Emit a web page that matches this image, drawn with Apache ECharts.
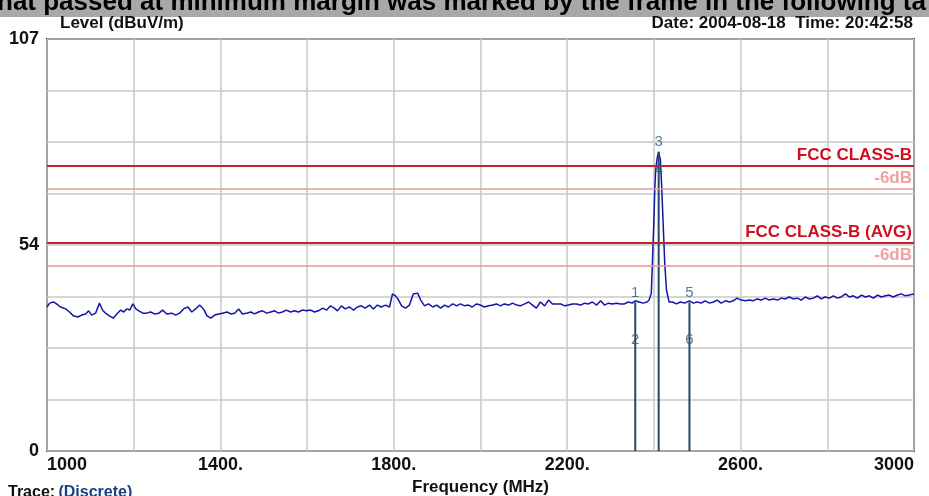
<!DOCTYPE html>
<html>
<head>
<meta charset="utf-8">
<script src="https://cdn.jsdelivr.net/npm/echarts@6/dist/echarts.min.js"></script>
<style>
  html, body { margin: 0; padding: 0; background: #fff; }
  #chart { width: 929px; height: 496px; }
</style>
</head>
<body>
<div id="chart"></div>
<script>
// measured trace (MHz, dBuV/m)
var traceFreq = [1000,1006,1015,1022,1031,1043,1052,1061,1071,1080,1089,1096,1103,1112,1121,1128,1135,1144,1153,1161,
  1170,1177,1184,1191,1198,1205,1212,1221,1230,1239,1248,1258,1267,1276,1288,1297,1306,1315,1325,1334,
  1343,1352,1361,1369,1378,1387,1396,1405,1415,1424,1433,1442,1451,1460,1470,1479,1488,1497,1507,1516,
  1525,1534,1543,1552,1562,1571,1580,1589,1599,1608,1617,1626,1636,1645,1654,1663,1670,1679,1688,1698,
  1707,1716,1725,1734,1744,1753,1762,1771,1781,1790,1797,1804,1811,1818,1827,1836,1845,1855,1862,1871,
  1880,1890,1899,1908,1917,1926,1936,1945,1954,1963,1972,1981,1991,2000,2009,2019,2028,2037,2046,2055,
  2065,2074,2083,2092,2102,2111,2120,2129,2138,2148,2157,2166,2175,2185,2194,2203,2212,2222,2231,2240,
  2249,2258,2268,2277,2286,2295,2304,2314,2323,2332,2341,2350,2357,2366,2375,2384,2389,2394,2396,2400,
  2402,2404,2408,2411,2415,2418,2421,2425,2429,2435,2443,2452,2461,2471,2482,2491,2500,2509,2518,2528,
  2537,2546,2555,2565,2574,2583,2592,2601,2611,2620,2629,2638,2648,2657,2666,2675,2685,2694,2703,2712,
  2722,2731,2740,2749,2758,2768,2777,2786,2795,2805,2814,2823,2832,2842,2851,2860,2869,2879,2888,2897,
  2906,2916,2925,2934,2943,2952,2962,2971,2980,2989,3000];
var traceLevel = [37.4,38.4,38.7,38.2,37.4,36.9,36.1,35.1,34.8,35.3,35.6,36.4,35.3,35.8,38.4,36.6,35.8,35.1,34.5,35.6,
  36.6,36.1,36.9,36.6,38.2,36.9,36.4,35.8,35.8,36.1,35.6,35.8,36.6,35.6,35.8,35.3,35.8,36.9,37.4,36.1,
  36.9,37.9,36.9,35.1,34.5,35.3,35.6,35.8,36.1,35.6,35.8,36.9,35.6,35.8,36.1,35.6,36.1,36.4,35.8,36.1,
  36.4,35.8,36.1,36.6,36.1,36.4,36.1,36.6,36.4,36.6,36.1,36.4,37.1,36.6,37.7,37.1,36.4,37.7,36.9,37.4,
  36.6,37.4,37.7,37.1,37.9,36.9,37.9,37.4,37.9,37.4,40.8,40.3,39.2,37.7,37.1,37.9,40.8,41.0,39.2,37.7,
  38.2,37.4,37.9,37.1,37.9,37.4,38.2,37.7,38.2,37.7,37.9,37.4,38.2,37.9,37.4,37.7,37.9,38.2,37.7,38.2,
  37.9,38.4,37.9,37.7,38.2,38.7,37.9,37.1,38.7,37.7,39.2,38.2,38.2,38.2,37.7,37.9,38.2,38.2,37.9,38.4,
  38.2,38.7,37.9,39.0,37.9,38.4,38.2,38.4,38.2,38.2,38.7,38.4,39.0,38.7,38.4,38.7,39.2,41.0,47.0,60.0,
  67.8,73.0,76.4,77.7,75.6,68.6,60.0,48.8,41.8,38.7,38.7,38.2,38.7,38.4,39.0,38.4,38.7,38.4,39.0,38.4,
  38.7,39.2,38.4,39.0,38.7,39.0,39.7,39.2,39.0,39.2,39.0,39.5,39.2,39.7,39.2,39.5,39.2,39.7,39.5,40.0,
  39.5,39.7,39.2,40.0,39.5,39.7,40.3,39.5,40.0,39.7,40.3,39.7,40.0,40.8,40.0,40.3,39.7,40.5,40.0,40.3,
  39.7,40.5,40.0,40.3,40.5,40.0,40.5,40.8,40.3,40.5,40.8];

// markers
var markerNames = ["1", "2", "3", "4", "5", "6"];
var markerFreq = [2357, 2357, 2411, 2411, 2482, 2482];
var markerLevel = [38.6, 26.5, 77.7, 70.5, 38.6, 26.5];

// limit lines
var limitNames = ["FCC CLASS-B", "-6dB", "FCC CLASS-B (AVG)", "-6dB"];
var limitValues = [74, 68, 54, 48];

// axis ticks
var xTickLabels = { 1000: "1000", 1400: "1400.", 1800: "1800.", 2200: "2200.", 2600: "2600.", 3000: "3000" };
var yTickLabels = { 0: "0", 53.5: "54", 107: "107" };

var narrow = "'Liberation Sans Narrow', 'Arial Narrow', 'Liberation Sans', sans-serif";

var chart = echarts.init(document.getElementById("chart"));

var trace = traceFreq.map(function (f, i) { return [f, traceLevel[i]]; });

// one stem per marker frequency, up to the highest reading there
var stems = {};
markerFreq.forEach(function (f, i) {
  stems[f] = Math.max(stems[f] || 0, markerLevel[i]);
});
var stemSeries = Object.keys(stems).map(function (f) {
  return {
    type: "line",
    data: [[+f, 0], [+f, stems[f]]],
    symbol: "none",
    silent: true,
    z: 4,
    lineStyle: { color: "#1f4a6b", width: 2 }
  };
});

var limitLines = limitValues.map(function (v, i) {
  var main = limitNames[i] !== "-6dB";
  return {
    yAxis: v,
    lineStyle: { color: main ? "#c4232b" : "#e59a8e", width: main ? 2 : 1.5, type: "solid" },
    label: {
      show: true,
      position: "insideEndTop",
      formatter: limitNames[i],
      color: main ? "#d01020" : "#efa3a0",
      fontFamily: narrow,
      fontWeight: "bold",
      fontSize: 17,
      distance: [2, 2]
    }
  };
});

chart.setOption({
  animation: false,
  grid: {
    left: 47,
    right: 15,
    top: 39,
    bottom: 45,
    outerBoundsMode: "none",
    show: true,
    borderColor: "#333",
    borderWidth: 2
  },
  xAxis: {
    type: "value",
    min: 1000,
    max: 3000,
    interval: 200,
    name: "Frequency (MHz)",
    nameLocation: "middle",
    nameGap: 26,
    nameTextStyle: { fontFamily: narrow, fontWeight: "bold", fontSize: 17, color: "#111" },
    axisLine: { show: false },
    axisTick: { show: false },
    splitLine: { lineStyle: { color: "#c8c8c8", width: 1.5 } },
    axisLabel: {
      margin: 5,
      fontFamily: narrow,
      fontWeight: "bold",
      fontSize: 18,
      color: "#111",
      alignMinLabel: "left",
      alignMaxLabel: "right",
      formatter: function (v) { return xTickLabels[v] || ""; }
    }
  },
  yAxis: {
    type: "value",
    min: 0,
    max: 107,
    interval: 13.375,
    axisLine: { show: false },
    axisTick: { show: false },
    splitLine: { lineStyle: { color: "#c8c8c8", width: 1.5 } },
    axisLabel: {
      margin: 8,
      fontFamily: narrow,
      fontWeight: "bold",
      fontSize: 18,
      color: "#111",
      formatter: function (v) { return yTickLabels[v] || ""; }
    }
  },
  graphic: [
    { type: "rect", left: 0, top: 0, shape: { width: 929, height: 17 }, style: { fill: "#a8a8a8" }, z: 10 },
    {
      type: "text", left: -3, top: -10, z: 11,
      style: {
        text: "hat passed at minimum margin was marked by the frame in the following ta",
        font: "bold 26px 'Liberation Sans', Arial, sans-serif",
        fill: "#000"
      }
    },
    {
      type: "text", left: 60, top: 15, z: 11,
      style: { text: "Level (dBuV/m)", font: "bold 17px " + narrow, fill: "#111" }
    },
    {
      type: "text", right: 16, top: 15, z: 11,
      style: { text: "Date: 2004-08-18  Time: 20:42:58", font: "bold 17px " + narrow, fill: "#111" }
    },
    {
      type: "text", left: 8, top: 485, z: 11,
      style: {
        text: "{a|Trace:} {b|(Discrete)}",
        rich: {
          a: { font: "bold 16px " + narrow, fill: "#111" },
          b: { font: "bold 16px " + narrow, fill: "#1a3f8a" }
        }
      }
    }
  ],
  series: [
    {
      name: "trace",
      type: "line",
      data: trace,
      symbol: "none",
      z: 3,
      lineStyle: { color: "#1414a8", width: 1.5 },
      markLine: {
        symbol: "none",
        silent: true,
        data: limitLines
      }
    }
  ].concat(stemSeries).concat([
    {
      name: "markers",
      type: "scatter",
      symbolSize: 0,
      z: 5,
      data: markerFreq.map(function (f, i) { return { value: [f, markerLevel[i]], name: markerNames[i] }; }),
      label: {
        show: true,
        position: "top",
        distance: 2,
        formatter: "{b}",
        color: "#2d5878",
        fontSize: 15,
        fontFamily: "'Liberation Sans', Arial, sans-serif"
      }
    }
  ])
});
</script>
</body>
</html>
